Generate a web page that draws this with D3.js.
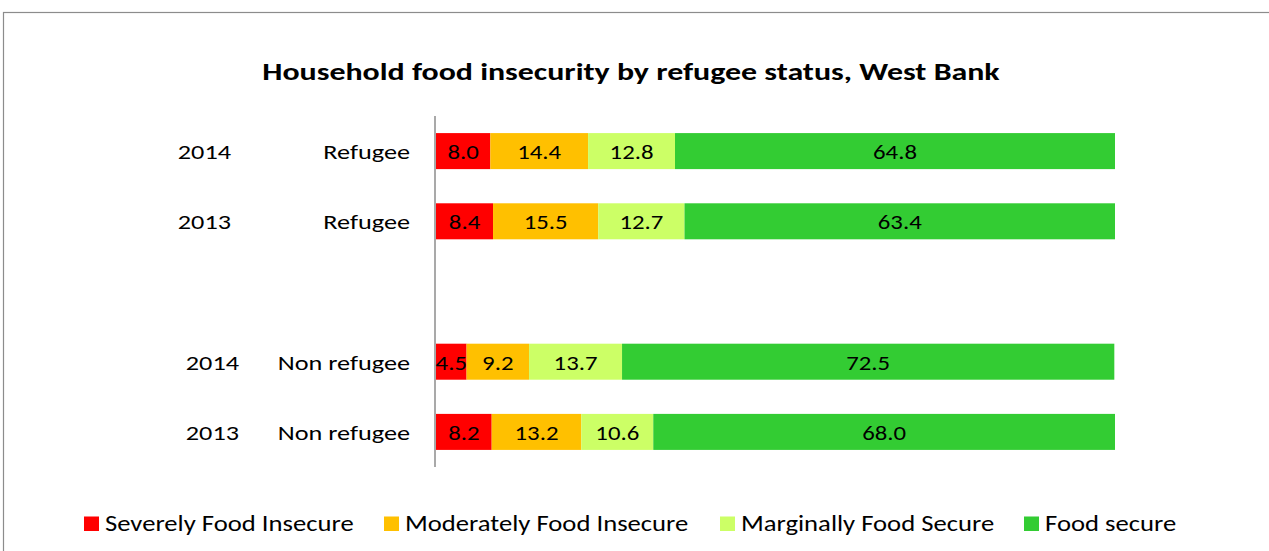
<!DOCTYPE html>
<html>
    <head>
        <script src="https://d3js.org/d3.v7.min.js"></script>
        <style>
            body { margin: 0; background-color: #ffffff; }
            text { font-family: Carlito, Calibri, Lato, sans-serif; fill: #000; }
        </style>
    </head>
    <body>
        <div id="chart"></div>
        <script>
            const years = ["2014", "2013", "", "2014", "2013"];
            const groups = ["Refugee", "Refugee", "", "Non refugee", "Non refugee"];
            const seriesNames = ["Severely Food Insecure", "Moderately Food Insecure", "Marginally Food Secure", "Food secure"];
            const seriesColors = ["#ff0000", "#ffc000", "#ccff66", "#33cc33"];
            const severe   = [8.0, 8.4, null, 4.5, 8.2];
            const moderate = [14.4, 15.5, null, 9.2, 13.2];
            const marginal = [12.8, 12.7, null, 13.7, 10.6];
            const secure   = [64.8, 63.4, null, 72.5, 68.0];
            const series = [severe, moderate, marginal, secure];

            const W = 1269, H = 551;
            const svg = d3.select("#chart").append("svg").attr("width", W).attr("height", H);

            // text helper: the source glyphs are a bit wider than Lato, so stretch in x
            function label(parent, x, y, str, size, anchor, sx, bold) {
                const g = parent.append("g").attr("transform", `translate(${x},${y}) scale(${sx},1)`);
                return g.append("text")
                    .attr("text-anchor", anchor)
                    .style("font-size", size + "px")
                    .style("font-weight", bold ? "bold" : "normal")
                    .text(str);
            }

            // chart frame (only top + left edges are in view)
            svg.append("rect")
                .attr("x", 3.5).attr("y", 12.5).attr("width", 1300).attr("height", 600)
                .attr("fill", "none").attr("stroke", "#8c8c8c").attr("stroke-width", 1.2);

            label(svg, 631, 79.5, "Household food insecurity by refugee status, West Bank", 24, "middle", 1.33, true);

            const rows = d3.range(years.length);
            const x = d3.scaleLinear().domain([0, 100]).range([436, 1115]);
            const y = d3.scaleBand().domain(rows).range([116, 467]).paddingInner(0.487).paddingOuter(0.2435);

            // stacked segments
            rows.forEach(i => {
                if (severe[i] == null) return;
                let acc = 0;
                series.forEach((s, k) => {
                    const v = s[i];
                    svg.append("rect")
                        .attr("x", x(acc)).attr("y", y(i))
                        .attr("width", x(acc + v) - x(acc)).attr("height", y.bandwidth())
                        .attr("fill", seriesColors[k]);
                    label(svg, x(acc + v / 2), y(i) + y.bandwidth() / 2 + 8, v.toFixed(1), 21, "middle", 1.18);
                    acc += v;
                });
            });

            // axis line
            svg.append("line")
                .attr("x1", 435).attr("x2", 435).attr("y1", 116).attr("y2", 467)
                .attr("stroke", "#8c8c8c").attr("stroke-width", 1.5);

            // category labels (two levels)
            const yearX = { "Refugee": 231, "Non refugee": 239 };
            rows.forEach(i => {
                if (!groups[i]) return;
                const cy = y(i) + y.bandwidth() / 2 + 8;
                label(svg, 410, cy, groups[i], 21, "end", 1.25);
                label(svg, yearX[groups[i]], cy, years[i], 21, "end", 1.25);
            });

            // legend
            const legendX = [84, 384, 720, 1024];
            seriesNames.forEach((name, k) => {
                svg.append("rect")
                    .attr("x", legendX[k]).attr("y", 516.5)
                    .attr("width", 15).attr("height", 14.5)
                    .attr("fill", seriesColors[k]);
                label(svg, legendX[k] + 21, 531, name, 21.5, "start", 1.24);
            });
        </script>
    </body>
</html>
